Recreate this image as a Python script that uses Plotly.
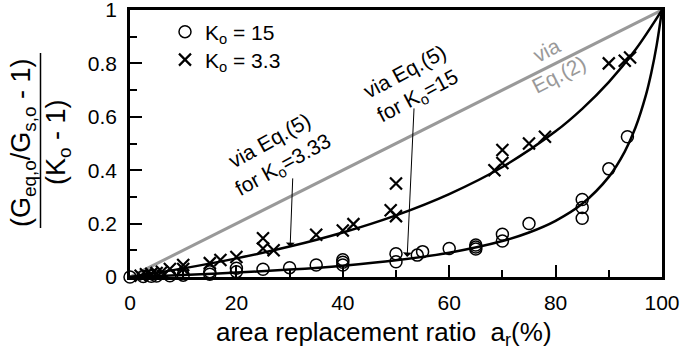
import plotly.graph_objects as go

# ---------------- data ----------------
# measured points, K_o = 15 (open circles)
circ_ar = [0, 2.5, 4, 5, 7.5, 10, 15, 15, 20, 20, 25, 30, 35, 40, 40, 40,
           50, 50, 54, 55, 60, 65, 65, 65, 70, 70, 75, 85, 85, 85, 90, 93.5]
circ_v = [0, 0.002, 0.003, 0.004, 0.005, 0.007, 0.01, 0.02, 0.02, 0.033, 0.029,
          0.035, 0.045, 0.045, 0.055, 0.065, 0.057, 0.087, 0.082, 0.095, 0.107,
          0.105, 0.112, 0.12, 0.135, 0.16, 0.2, 0.22, 0.26, 0.29, 0.405, 0.525]

# measured points, K_o = 3.3 (crosses)
x_ar = [2, 3, 4, 5, 6, 7.5, 10, 10, 15, 17, 20, 25, 25, 27, 35, 40, 42, 49,
        50, 50, 68.5, 70, 70, 75, 78, 90, 93, 94]
x_v = [0.005, 0.01, 0.012, 0.015, 0.02, 0.03, 0.03, 0.045, 0.052, 0.064, 0.075,
       0.107, 0.145, 0.1, 0.158, 0.174, 0.198, 0.25, 0.228, 0.35, 0.4, 0.427,
       0.476, 0.5, 0.525, 0.8, 0.81, 0.822]

# curve via Eq.(5), K_o = 15
c15_ar = [0, 5, 10, 20, 30, 40, 50, 60, 70, 75, 80, 85, 90, 93, 95, 97, 98, 99, 100]
c15_v = [0, 0.0035, 0.0074, 0.0164, 0.0278, 0.0426, 0.0625, 0.0909, 0.1346,
         0.1667, 0.2105, 0.2742, 0.375, 0.4697, 0.5588, 0.683, 0.7656, 0.8684, 1.0]

# curve via Eq.(5), K_o = 3.33
c33_ar = [0, 10, 20, 30, 40, 50, 60, 70, 80, 85, 90, 95, 100]
c33_v = [0, 0.0323, 0.0698, 0.114, 0.1668, 0.2309, 0.3106, 0.412, 0.5457,
         0.6299, 0.7299, 0.8509, 1.0]

# line via Eq.(2)
eq2_ar = [0, 100]
eq2_v = [0, 1]

x_ticks = [0, 20, 40, 60, 80, 100]
y_ticks = [0, 0.2, 0.4, 0.6, 0.8, 1]
y_ticktext = ["0", "0.2", "0.4", "0.6", "0.8", "1"]

# ---------------- figure ----------------
W, H = 681, 349
L, R, T, B = 130, 19, 10, 72
FONT = "Liberation Sans, Arial, sans-serif"

pw = W - L - R
ph = H - T - B
def px2paper_x(px):
    return (px - L) / pw
def py2paper_y(py):
    return (H - B - py) / ph

fig = go.Figure()

fig.add_trace(go.Scatter(x=eq2_ar, y=eq2_v, mode="lines",
                         line=dict(color="#999999", width=3), showlegend=False,
                         hoverinfo="skip"))
fig.add_trace(go.Scatter(x=c33_ar, y=c33_v, mode="lines", line_shape="spline",
                         line=dict(color="black", width=2.5), showlegend=False))
fig.add_trace(go.Scatter(x=c15_ar, y=c15_v, mode="lines", line_shape="spline",
                         line=dict(color="black", width=2.5), showlegend=False))

fig.add_trace(go.Scatter(x=circ_ar, y=circ_v, mode="markers", name="K<sub>o</sub> = 15",
                         cliponaxis=False, legend="legend",
                         marker=dict(symbol="circle-open", size=12, color="black",
                                     line=dict(width=1.5, color="black"))))
fig.add_trace(go.Scatter(x=x_ar, y=x_v, mode="markers", name="K<sub>o</sub> = 3.3",
                         cliponaxis=False, legend="legend2",
                         marker=dict(symbol="x-thin-open", size=12, color="black",
                                     line=dict(width=2.2, color="black"))))

ann_font = dict(family=FONT, size=21, color="black")
annotations = [
    dict(x=27.6, y=0.462, xref="x", yref="y", showarrow=False, textangle=-29,
         xanchor="center", yanchor="middle",
         text="via Eq.(5)<br>for K<sub>o</sub>=3.33", font=ann_font),
    dict(x=53.0, y=0.719, xref="x", yref="y", showarrow=False, textangle=-28,
         xanchor="center", yanchor="middle",
         text="via Eq.(5)<br>for K<sub>o</sub>=15", font=ann_font),
    dict(x=79.5, y=0.805, xref="x", yref="y", showarrow=False, textangle=-27,
         xanchor="center", yanchor="middle",
         text="via<br>Eq.(2)", font=dict(family=FONT, size=21, color="#999999")),
    # arrows
    dict(x=30.1, y=0.112, ax=30.6, ay=0.375, xref="x", yref="y", axref="x", ayref="y",
         text="", showarrow=True, arrowhead=1, arrowsize=1.5, arrowwidth=1,
         arrowcolor="black"),
    dict(x=52.1, y=0.075, ax=53.4, ay=0.637, xref="x", yref="y", axref="x", ayref="y",
         text="", showarrow=True, arrowhead=1, arrowsize=1.5, arrowwidth=1,
         arrowcolor="black"),
]

# x-axis title
annotations.append(dict(x=px2paper_x(383.5), y=py2paper_y(333), xref="paper", yref="paper",
                        showarrow=False, xanchor="center", yanchor="middle",
                        text="area replacement ratio\u00a0\u00a0a<sub>r</sub>(%)",
                        font=dict(family=FONT, size=26, color="black")))
# y-axis title as fraction
annotations.append(dict(x=px2paper_x(22.5), y=py2paper_y(142.5), xref="paper", yref="paper",
                        showarrow=False, textangle=-90, xanchor="center", yanchor="middle",
                        text="(G<sub>eq,o</sub>/G<sub>s,o</sub> - 1)",
                        font=dict(family=FONT, size=27, color="black")))
annotations.append(dict(x=px2paper_x(57.5), y=py2paper_y(142.5), xref="paper", yref="paper",
                        showarrow=False, textangle=-90, xanchor="center", yanchor="middle",
                        text="(K<sub>o</sub> - 1)",
                        font=dict(family=FONT, size=27, color="black")))

shapes = [dict(type="line", xref="paper", yref="paper",
               x0=px2paper_x(40.5), x1=px2paper_x(40.5),
               y0=py2paper_y(53), y1=py2paper_y(228),
               line=dict(color="black", width=1.5))]

leg_common = dict(xanchor="left", yanchor="middle", bgcolor="rgba(0,0,0,0)",
                  font=dict(family=FONT, size=21), itemwidth=30)

fig.update_layout(
    width=W, height=H,
    margin=dict(l=L, r=R, t=T, b=B, autoexpand=False),
    plot_bgcolor="white", paper_bgcolor="white",
    font=dict(family=FONT, size=21, color="black"),
    annotations=annotations,
    shapes=shapes,
    legend=dict(x=px2paper_x(165), y=py2paper_y(32), **leg_common),
    legend2=dict(x=px2paper_x(165), y=py2paper_y(60), **leg_common),
    xaxis=dict(range=[0, 100], tickvals=x_ticks, showgrid=False, zeroline=False,
               automargin=False, ticklabeloverflow="allow", ticklabelstandoff=5,
               showline=True, linecolor="black", linewidth=2.5, mirror=True,
               ticks="inside", ticklen=12, tickwidth=2, tickcolor="black",
               minor=dict(ticks="inside", ticklen=7, tickwidth=2, tickcolor="black",
                          dtick=10, showgrid=False),
               tickfont=dict(family=FONT, size=21)),
    yaxis=dict(range=[0, 1], tickvals=y_ticks, ticktext=y_ticktext, showgrid=False,
               automargin=False, ticklabeloverflow="allow",
               zeroline=False, showline=True, linecolor="black", linewidth=2.5,
               mirror=True, ticks="inside", ticklen=12, tickwidth=2, tickcolor="black",
               minor=dict(ticks="inside", ticklen=7, tickwidth=2, tickcolor="black",
                          dtick=0.1, showgrid=False),
               ticklabelstandoff=6,
               tickfont=dict(family=FONT, size=21)),
)

fig.write_html("out.html", config={"displayModeBar": False},
               post_script="document.body.style.margin='0';")
